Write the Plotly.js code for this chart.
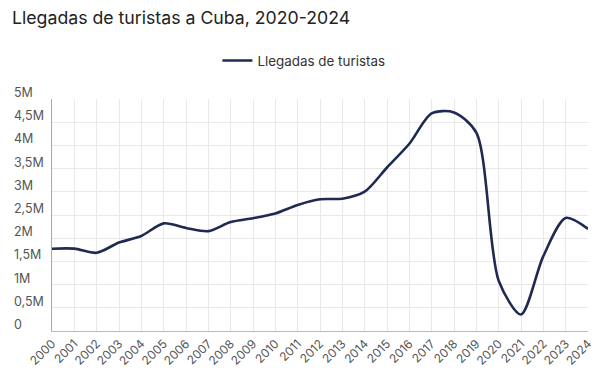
<!DOCTYPE html>
<html><head><meta charset="utf-8">
<script src="https://cdn.plot.ly/plotly-3.0.1.min.js"></script>
<style>html,body{margin:0;padding:0;background:#fff}#c{width:600px;height:376px}</style>
</head><body><div id="c"></div>
<script>
const years = ["2000","2001","2002","2003","2004","2005","2006","2007","2008","2009","2010","2011","2012","2013","2014","2015","2016","2017","2018","2019","2020","2021","2022","2023","2024"];
const arrivals = [1.774,1.775,1.686,1.906,2.049,2.319,2.221,2.152,2.348,2.429,2.532,2.716,2.838,2.852,3.002,3.524,4.035,4.689,4.711,4.276,1.085,0.356,1.614,2.436,2.200];
const yTickVals = [0,0.5,1,1.5,2,2.5,3,3.5,4,4.5,5];
const yTickText = ["0","0,5M","1M","1,5M","2M","2,5M","3M","3,5M","4M","4,5M","5M"];
const seriesName = "Llegadas de turistas";
const titleText = "Llegadas de turistas a Cuba, 2020-2024";

const font = "Inter, Roboto, 'Noto Sans', sans-serif";
const trace = {
  x: years, y: arrivals, type: "scatter", mode: "lines", name: seriesName,
  line: {color: "#1e2a52", width: 2.6, shape: "spline", smoothing: 0.8},
  hoverinfo: "x+y"
};
const annotations = yTickVals.map((v, i) => ({
  xref: "paper", yref: "y", x: 0, y: v, xshift: -40, yshift: -3,
  xanchor: "left", yanchor: "bottom", showarrow: false,
  text: yTickText[i], font: {family: font, size: 12.5, color: "#555"}
}));
const layout = {
  width: 600, height: 376,
  margin: {l: 52, r: 12, t: 99, b: 45},
  paper_bgcolor: "#fff", plot_bgcolor: "#fff",
  title: {text: titleText, x: 0, xref: "paper", xanchor: "left", y: 0.952, yanchor: "middle",
          pad: {l: -40}, font: {family: font, size: 17.7, color: "#222"}},
  showlegend: true,
  legend: {orientation: "h", x: 0.47, xanchor: "center", y: 1.165, yanchor: "middle",
           font: {family: font, size: 13.4, color: "#333"}, itemwidth: 30},
  xaxis: {type: "category", range: [0, years.length - 1], tickangle: -45,
          showgrid: true, gridcolor: "#e9e9e9", gridwidth: 1,
          showline: true, linecolor: "#bbb", linewidth: 1,
          ticks: "", tickfont: {family: font, size: 12, color: "#555"}, fixedrange: true},
  yaxis: {range: [0, 5], tickvals: yTickVals, showticklabels: false,
          showgrid: true, gridcolor: "#e9e9e9", gridwidth: 1, zeroline: false,
          showline: true, linecolor: "#aaa", linewidth: 1, fixedrange: true},
  annotations: annotations
};
Plotly.newPlot("c", [trace], layout, {displayModeBar: false, staticPlot: true});
</script></body></html>
